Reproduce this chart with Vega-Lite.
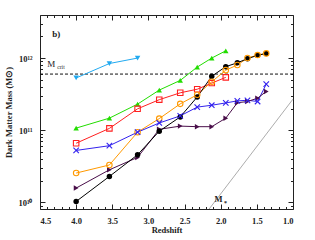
{
  "$schema": "https://vega.github.io/schema/vega-lite/v6.json",
  "width": 253,
  "height": 194,
  "autosize": {"type": "none"},
  "padding": {"left": 40, "top": 15, "right": 22, "bottom": 31},
  "background": "white",
  "config": {
    "view": {"stroke": "#222", "strokeWidth": 1},
    "axis": {"grid": false, "domain": false, "labelFont": "Liberation Serif", "labelFontWeight": "bold", "labelFontSize": 8.5, "labelColor": "#222", "tickColor": "#222", "tickWidth": 1, "titleFont": "Liberation Serif", "titleFontWeight": "bold", "titleFontSize": 8.5, "titleColor": "#222"},
    "text": {"font": "Liberation Serif", "fontWeight": "bold", "color": "#222"}
  },
  "datasets": {
    "series": [
      {"z": 4.0, "m": 5.3e11, "s": "s1"}, {"z": 3.54, "m": 8.4e11, "s": "s1"}, {"z": 3.15, "m": 1.0e12, "s": "s1"},
      {"z": 4.0, "m": 1.07e11, "s": "s2"}, {"z": 3.54, "m": 1.47e11, "s": "s2"}, {"z": 3.15, "m": 2.3e11, "s": "s2"}, {"z": 2.85, "m": 3.6e11, "s": "s2"}, {"z": 2.56, "m": 4.9e11, "s": "s2"}, {"z": 2.325, "m": 7.5e11, "s": "s2"}, {"z": 2.124, "m": 1.0e12, "s": "s2"}, {"z": 1.93, "m": 1.26e12, "s": "s2"},
      {"z": 4.0, "m": 6.6e10, "s": "s3"}, {"z": 3.54, "m": 1.06e11, "s": "s3"}, {"z": 3.15, "m": 1.98e11, "s": "s3"}, {"z": 2.85, "m": 2.65e11, "s": "s3"}, {"z": 2.56, "m": 3.3e11, "s": "s3"}, {"z": 2.325, "m": 3.7e11, "s": "s3"}, {"z": 2.124, "m": 4.5e11, "s": "s3"}, {"z": 1.93, "m": 5.4e11, "s": "s3"},
      {"z": 4.0, "m": 2.55e10, "s": "s4"}, {"z": 3.54, "m": 3.3e10, "s": "s4"}, {"z": 3.15, "m": 9.4e10, "s": "s4"}, {"z": 2.85, "m": 1.45e11, "s": "s4"}, {"z": 2.56, "m": 2.32e11, "s": "s4"}, {"z": 2.325, "m": 3.1e11, "s": "s4"}, {"z": 2.124, "m": 4.7e11, "s": "s4"}, {"z": 1.93, "m": 6.8e11, "s": "s4"}, {"z": 1.77, "m": 8.0e11, "s": "s4"}, {"z": 1.63, "m": 1.0e12, "s": "s4"}, {"z": 1.49, "m": 1.1e12, "s": "s4"}, {"z": 1.37, "m": 1.16e12, "s": "s4"},
      {"z": 4.0, "m": 5.25e10, "s": "s5"}, {"z": 3.54, "m": 6.1e10, "s": "s5"}, {"z": 3.15, "m": 9.4e10, "s": "s5"}, {"z": 2.85, "m": 1.26e11, "s": "s5"}, {"z": 2.56, "m": 1.58e11, "s": "s5"}, {"z": 2.325, "m": 2.09e11, "s": "s5"}, {"z": 2.124, "m": 2.22e11, "s": "s5"}, {"z": 1.93, "m": 2.39e11, "s": "s5"}, {"z": 1.77, "m": 2.55e11, "s": "s5"}, {"z": 1.63, "m": 2.6e11, "s": "s5"}, {"z": 1.49, "m": 2.5e11, "s": "s5"}, {"z": 1.37, "m": 4.35e11, "s": "s5"},
      {"z": 4.0, "m": 1.58e10, "s": "s6"}, {"z": 3.54, "m": 2.83e10, "s": "s6"}, {"z": 3.15, "m": 4.2e10, "s": "s6"}, {"z": 2.85, "m": 1.03e11, "s": "s6"}, {"z": 2.56, "m": 1.14e11, "s": "s6"}, {"z": 2.325, "m": 1.12e11, "s": "s6"}, {"z": 2.124, "m": 1.12e11, "s": "s6"}, {"z": 1.93, "m": 1.47e11, "s": "s6"}, {"z": 1.77, "m": 2.4e11, "s": "s6"}, {"z": 1.63, "m": 2.5e11, "s": "s6"}, {"z": 1.49, "m": 2.78e11, "s": "s6"}, {"z": 1.37, "m": 3.45e11, "s": "s6"},
      {"z": 4.0, "m": 1.03e10, "s": "s7"}, {"z": 3.54, "m": 2.29e10, "s": "s7"}, {"z": 3.15, "m": 4.57e10, "s": "s7"}, {"z": 2.85, "m": 9.7e10, "s": "s7"}, {"z": 2.56, "m": 1.53e11, "s": "s7"}, {"z": 2.325, "m": 2.89e11, "s": "s7"}, {"z": 2.124, "m": 5.6e11, "s": "s7"}, {"z": 1.93, "m": 7.6e11, "s": "s7"}, {"z": 1.77, "m": 8.6e11, "s": "s7"}, {"z": 1.63, "m": 9.8e11, "s": "s7"}, {"z": 1.49, "m": 1.09e12, "s": "s7"}, {"z": 1.37, "m": 1.16e12, "s": "s7"}
    ],
    "mstar": [{"z": 2.16, "m": 8.1e9}, {"z": 1.0, "m": 2.7e11}],
    "one": [{}]
  },
  "resolve": {"axis": {"x": "independent", "y": "independent"}},
  "layer": [
    {
      "data": {"name": "one"},
      "mark": {"type": "rule", "strokeDash": [3, 2], "strokeWidth": 1, "color": "#111"},
      "encoding": {
        "y": {"datum": 6e11, "type": "quantitative", "scale": {"type": "log", "domain": [8.1e9, 3.95e12]}, "axis": null}
      }
    },
    {
      "data": {"name": "mstar"},
      "mark": {"type": "line", "color": "#888", "strokeWidth": 0.7},
      "encoding": {
        "x": {"field": "z", "type": "quantitative", "scale": {"domain": [4.5, 1.0], "nice": false, "zero": false}, "axis": {"orient": "top", "values": [4.5, 4.0, 3.5, 3.0, 2.5, 2.0, 1.5, 1.0], "labels": false, "tickSize": 5, "offset": -5, "title": null}},
        "y": {"field": "m", "type": "quantitative", "scale": {"type": "log", "domain": [8.1e9, 3.95e12], "nice": false}, "axis": {"orient": "right", "values": [1e10, 1e11, 1e12], "labels": false, "tickSize": 5, "offset": -5, "title": null}}
      }
    },
    {
      "data": {"name": "series"},
      "mark": {"type": "line", "strokeWidth": 1},
      "encoding": {
        "x": {"field": "z", "type": "quantitative", "scale": {"domain": [4.5, 1.0], "nice": false, "zero": false}, "axis": {"orient": "bottom", "values": [4.5, 4.0, 3.5, 3.0, 2.5, 2.0, 1.5, 1.0], "format": ".1f", "tickSize": 5, "offset": -5, "labelPadding": 7, "title": "Redshift", "titlePadding": 1}},
        "y": {"field": "m", "type": "quantitative", "scale": {"type": "log", "domain": [8.1e9, 3.95e12], "nice": false}, "axis": {"orient": "left", "values": [1e10, 1e11, 1e12], "tickSize": 5, "offset": -5, "labelPadding": 8, "labelOverlap": false, "labelFlush": false, "labelExpr": "datum.value < 5e10 ? '10¹⁰' : datum.value < 5e11 ? '10¹¹' : '10¹²'", "title": "Dark Matter Mass (M⊙)", "titlePadding": 4}},
        "color": {"field": "s", "type": "nominal", "scale": {"domain": ["s1", "s2", "s3", "s4", "s5", "s6", "s7"], "range": ["#22AAF0", "#22DD00", "#FF2020", "#FF9900", "#3322EE", "#4A0F4A", "#000000"]}, "legend": null},
        "detail": {"field": "s"}
      }
    },
    {
      "data": {"name": "series"},
      "transform": [{"filter": "datum.s == 's1' || datum.s == 's2' || datum.s == 's6' || datum.s == 's7'"}],
      "mark": {"type": "point", "filled": true, "opacity": 1},
      "encoding": {
        "x": {"field": "z", "type": "quantitative", "axis": {"orient": "bottom", "values": [4.4, 4.3, 4.2, 4.1, 3.9, 3.8, 3.7, 3.6, 3.4, 3.3, 3.2, 3.1, 2.9, 2.8, 2.7, 2.6, 2.4, 2.3, 2.2, 2.1, 1.9, 1.8, 1.7, 1.6, 1.4, 1.3, 1.2, 1.1], "labels": false, "tickSize": 2.5, "offset": -2.5, "title": null}},
        "y": {"field": "m", "type": "quantitative", "scale": {"type": "log"}, "axis": {"orient": "left", "values": [9e9, 2e10, 3e10, 4e10, 5e10, 6e10, 7e10, 8e10, 9e10, 2e11, 3e11, 4e11, 5e11, 6e11, 7e11, 8e11, 9e11, 2e12, 3e12], "labels": false, "tickSize": 2.5, "offset": -2.5, "title": null}},
        "color": {"field": "s", "type": "nominal", "legend": null},
        "shape": {"field": "s", "type": "nominal", "scale": {"domain": ["s1", "s2", "s3", "s4", "s5", "s6", "s7"], "range": ["triangle-down", "triangle-up", "square", "circle", "M-1,-1L1,1M-1,1L1,-1", "triangle-right", "circle"]}, "legend": null},
        "size": {"field": "s", "type": "nominal", "scale": {"domain": ["s1", "s2", "s3", "s4", "s5", "s6", "s7"], "range": [30, 30, 32, 32, 32, 30, 18]}, "legend": null}
      }
    },
    {
      "data": {"name": "series"},
      "transform": [{"filter": "datum.s == 's3' || datum.s == 's4' || datum.s == 's5'"}],
      "mark": {"type": "point", "filled": false, "opacity": 1, "strokeWidth": 1.1},
      "encoding": {
        "x": {"field": "z", "type": "quantitative", "axis": {"orient": "top", "values": [4.4, 4.3, 4.2, 4.1, 3.9, 3.8, 3.7, 3.6, 3.4, 3.3, 3.2, 3.1, 2.9, 2.8, 2.7, 2.6, 2.4, 2.3, 2.2, 2.1, 1.9, 1.8, 1.7, 1.6, 1.4, 1.3, 1.2, 1.1], "labels": false, "tickSize": 2.5, "offset": -2.5, "title": null}},
        "y": {"field": "m", "type": "quantitative", "scale": {"type": "log"}, "axis": {"orient": "right", "values": [9e9, 2e10, 3e10, 4e10, 5e10, 6e10, 7e10, 8e10, 9e10, 2e11, 3e11, 4e11, 5e11, 6e11, 7e11, 8e11, 9e11, 2e12, 3e12], "labels": false, "tickSize": 2.5, "offset": -2.5, "title": null}},
        "color": {"field": "s", "type": "nominal", "legend": null},
        "shape": {"field": "s", "type": "nominal", "legend": null},
        "size": {"field": "s", "type": "nominal", "legend": null}
      }
    },
    {
      "data": {"name": "one"},
      "mark": {"type": "text", "fontSize": 9, "align": "left", "baseline": "alphabetic"},
      "encoding": {
        "x": {"datum": 4.33, "type": "quantitative", "axis": null},
        "y": {"datum": 1.95e12, "type": "quantitative", "axis": null},
        "text": {"value": "b)"}
      }
    },
    {
      "data": {"name": "one"},
      "mark": {"type": "text", "fontSize": 9, "fontWeight": "normal", "align": "left", "baseline": "alphabetic"},
      "encoding": {
        "x": {"datum": 4.4, "type": "quantitative", "axis": null},
        "y": {"datum": 7.6e11, "type": "quantitative", "axis": null},
        "text": {"value": "M"}
      }
    },
    {
      "data": {"name": "one"},
      "mark": {"type": "text", "fontSize": 5.5, "fontWeight": "normal", "align": "left", "baseline": "alphabetic"},
      "encoding": {
        "x": {"datum": 4.26, "type": "quantitative", "axis": null},
        "y": {"datum": 7.0e11, "type": "quantitative", "axis": null},
        "text": {"value": "crit"}
      }
    },
    {
      "data": {"name": "one"},
      "mark": {"type": "text", "fontSize": 8.5, "align": "left", "baseline": "alphabetic"},
      "encoding": {
        "x": {"datum": 2.085, "type": "quantitative", "axis": null},
        "y": {"datum": 1.0e10, "type": "quantitative", "axis": null},
        "text": {"value": "M"}
      }
    },
    {
      "data": {"name": "one"},
      "mark": {"type": "text", "fontSize": 6, "align": "left", "baseline": "alphabetic"},
      "encoding": {
        "x": {"datum": 1.955, "type": "quantitative", "axis": null},
        "y": {"datum": 9.3e9, "type": "quantitative", "axis": null},
        "text": {"value": "*"}
      }
    }
  ]
}
